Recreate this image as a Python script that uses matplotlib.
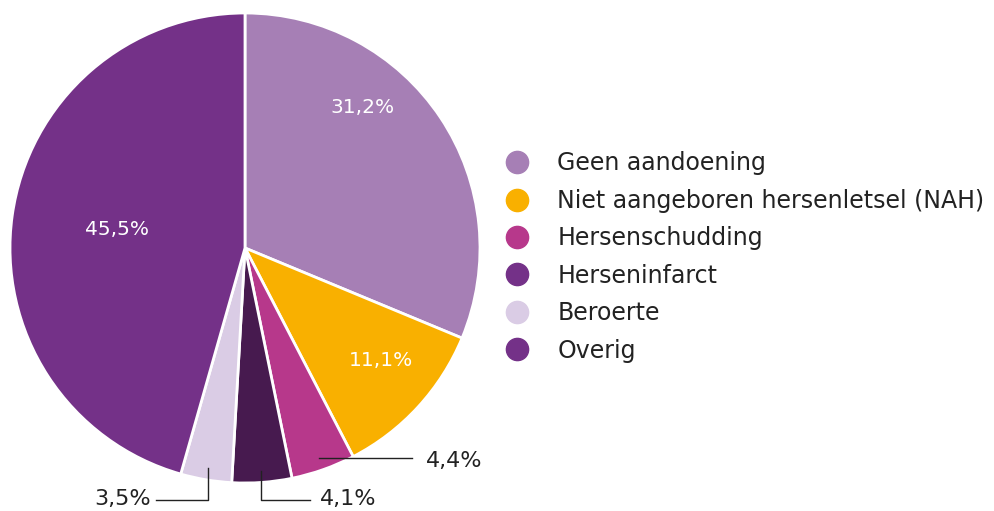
import matplotlib
matplotlib.use("Agg")
import matplotlib.pyplot as plt
from matplotlib.lines import Line2D
import numpy as np

plt.rcParams['font.family'] = ['DejaVu Sans']

labels = ["Geen aandoening", "Niet aangeboren hersenletsel (NAH)", "Hersenschudding",
          "Herseninfarct", "Beroerte", "Overig"]
values = [31.2, 11.1, 4.4, 4.1, 3.5, 45.5]
value_labels = ["31,2%", "11,1%", "4,4%", "4,1%", "3,5%", "45,5%"]
slice_colors = ["#a67fb5", "#f9b000", "#b7388b", "#471a4f", "#dacce5", "#743188"]
legend_colors = ["#a67fb5", "#f9b000", "#b7388b", "#743188", "#dacce5", "#743188"]

fig = plt.figure(figsize=(9.95, 5.11), dpi=100)
ax = fig.add_axes([10/995, 28/511, 470/995, 470/511])

wedges, _ = ax.pie(values, colors=slice_colors, startangle=90, counterclock=False,
                   wedgeprops=dict(edgecolor="white", linewidth=2))
ax.set_xlim(-1, 1)
ax.set_ylim(-1, 1)
ax.set_aspect("equal")
ax.axis("off")

total = sum(values)
cum = np.cumsum([0] + values)
mids = [np.deg2rad(90 - 360 * (cum[i] + cum[i+1]) / 2 / total) for i in range(len(values))]

# labels inside the big slices (placed by hand like the original)
inside = {0: (0.50, 0.60), 1: (0.58, -0.48), 5: (-0.545, 0.077)}
for i, (tx, ty) in inside.items():
    ax.text(tx, ty, value_labels[i], color="white", fontsize=14.5, ha="center", va="center")

# leader lines for small slices
r0 = 0.95
y_low = -1.072
txt = "#222222"
# 4,4%
i = 2
x0, y0 = r0 * np.cos(mids[i]), r0 * np.sin(mids[i])
ax.plot([x0, 0.711], [y0, y0], color=txt, lw=1, clip_on=False)
ax.text(0.77, y0 - 0.01, value_labels[i], fontsize=16, ha="left", va="center", color=txt)
# 4,1%
i = 3
x0, y0 = r0 * np.cos(mids[i]), r0 * np.sin(mids[i])
ax.plot([x0, x0, 0.277], [y0, y_low, y_low], color=txt, lw=1, clip_on=False)
ax.text(0.32, y_low + 0.005, value_labels[i], fontsize=16, ha="left", va="center", color=txt)
# 3,5%
i = 4
x0, y0 = r0 * np.cos(mids[i]), r0 * np.sin(mids[i])
ax.plot([x0, x0, -0.379], [y0, y_low, y_low], color=txt, lw=1, clip_on=False)
ax.text(-0.40, y_low + 0.005, value_labels[i], fontsize=16, ha="right", va="center", color=txt)

handles = [Line2D([0], [0], marker="o", color="none", markerfacecolor=c,
                  markeredgecolor=c, markersize=16) for c in legend_colors]
fig.legend(handles, labels, loc="center left", bbox_to_anchor=(496/995, 1 - 257/511),
           frameon=False, fontsize=17, labelspacing=0.57, handletextpad=1.19,
           handlelength=1.0, borderaxespad=0, labelcolor=txt)

fig.savefig("out.png", dpi=100)
